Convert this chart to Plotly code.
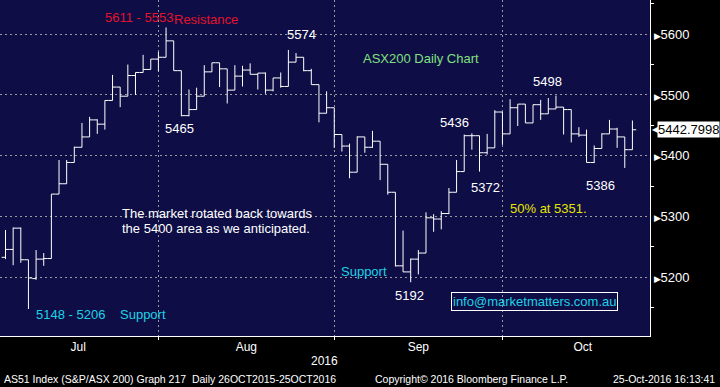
import plotly.graph_objects as go
import pandas as pd

# ---------------- data ----------------
dates = pd.bdate_range("2016-07-01", "2016-10-25").strftime("%Y-%m-%d").tolist()

open_ = [5233, 5246, 5281, 5229, 5198, 5230, 5231, 5337, 5354, 5389,
         5414, 5431, 5459, 5452, 5491, 5513, 5498, 5532, 5537, 5542,
         5559, 5562, 5589, 5540, 5466, 5476, 5498, 5538, 5553, 5543,
         5508, 5531, 5541, 5534, 5536, 5508, 5528, 5514, 5554, 5562,
         5540, 5517, 5470, 5479, 5435, 5416, 5373, 5431, 5414, 5424,
         5386, 5340, 5219, 5209, 5230, 5240, 5298, 5296, 5305, 5340,
         5374, 5433, 5433, 5405, 5413, 5472, 5436, 5479, 5485, 5454,
         5484, 5469, 5477, 5480, 5476, 5436, 5434, 5389, 5412, 5436,
         5444, 5431, 5410]
high = [5278, 5282, 5282, 5229, 5245, 5240, 5337, 5393, 5393, 5415,
        5454, 5464, 5460, 5491, 5533, 5513, 5550, 5537, 5566, 5559,
        5571, 5611, 5589, 5540, 5509, 5512, 5549, 5553, 5553, 5543,
        5549, 5548, 5552, 5536, 5537, 5528, 5537, 5574, 5569, 5562,
        5543, 5517, 5506, 5479, 5435, 5420, 5432, 5431, 5441, 5424,
        5386, 5340, 5277, 5231, 5245, 5307, 5304, 5309, 5347, 5393,
        5435, 5437, 5433, 5436, 5475, 5472, 5493, 5485, 5485, 5484,
        5492, 5495, 5499, 5480, 5476, 5447, 5443, 5417, 5437, 5459,
        5446, 5431, 5458]
low = [5230, 5220, 5224, 5148, 5196, 5219, 5231, 5337, 5354, 5389,
       5414, 5431, 5436, 5443, 5491, 5480, 5498, 5500, 5537, 5542,
       5539, 5562, 5540, 5465, 5465, 5476, 5498, 5538, 5513, 5486,
       5508, 5514, 5534, 5509, 5502, 5506, 5512, 5514, 5554, 5539,
       5517, 5455, 5470, 5413, 5407, 5363, 5373, 5405, 5413, 5360,
       5336, 5218, 5209, 5192, 5205, 5240, 5275, 5279, 5304, 5340,
       5374, 5410, 5374, 5402, 5413, 5418, 5436, 5449, 5454, 5454,
       5459, 5469, 5477, 5435, 5422, 5431, 5389, 5388, 5412, 5436,
       5413, 5380, 5410]
close = [5246, 5281, 5229, 5199, 5230, 5231, 5337, 5354, 5389, 5414,
         5431, 5459, 5452, 5491, 5513, 5498, 5532, 5537, 5542, 5559,
         5562, 5589, 5540, 5466, 5476, 5498, 5538, 5553, 5543, 5508,
         5531, 5541, 5534, 5536, 5508, 5528, 5514, 5554, 5562, 5540,
         5517, 5470, 5479, 5435, 5416, 5373, 5431, 5414, 5424, 5386,
         5340, 5219, 5209, 5230, 5240, 5298, 5296, 5305, 5340, 5374,
         5433, 5433, 5405, 5413, 5472, 5436, 5479, 5485, 5454, 5484,
         5469, 5477, 5480, 5476, 5436, 5434, 5389, 5412, 5436, 5444,
         5431, 5410, 5442.7998]

month_names = ["Jul", "Aug", "Sep", "Oct"]
y_ticks = [5200, 5300, 5400, 5500, 5600]
y_minor = [5150, 5250, 5350, 5450, 5550, 5650]
last_price = close[-1]

# ---------------- derived axis positions ----------------
full = pd.bdate_range("2016-07-01", "2016-10-31").to_period("M")
label_pos, grid_pos = [], []
for m in full.unique():
    ids = [i for i, p in enumerate(full) if p == m]
    label_pos.append((ids[0] - 1 + ids[-1]) / 2)
    if ids[-1] < len(dates) - 1:
        grid_pos.append(ids[-1])

x = list(range(len(dates)))

# ---------------- styling ----------------
PW, PH = 650, 336
NAV = "#0e0d45"
GRID = "#9a9a9a"
SANS = "Liberation Sans, Arial, sans-serif"
RED = "#e3122d"
CYAN = "#1ed2e6"
GREEN = "#80e080"
YELLOW = "#e6e600"
WHITE = "#ffffff"

def px(v):
    return v / PW

def py(v):
    return 1 - v / PH

fig = go.Figure(go.Ohlc(
    x=x, open=open_, high=high, low=low, close=close,
    text=dates, hoverinfo="text+y",
    increasing=dict(line=dict(color=WHITE, width=1)),
    decreasing=dict(line=dict(color=WHITE, width=1)),
    tickwidth=0.5,
))

ann = []
def txt(t, cx, cy, color=WHITE, size=13, anchor="center", family=SANS, **kw):
    ann.append(dict(text=t, x=px(cx), y=py(cy), xref="paper", yref="paper",
                    xanchor=anchor, yanchor="middle", showarrow=False,
                    font=dict(family=family, size=size, color=color), **kw))

txt("5611 - 5553", 139, 17, RED)
txt("Resistance", 205.5, 19.5, RED)
txt("5574", 301.5, 35)
txt("5465", 179.5, 128)
txt("ASX200 Daily Chart", 420.5, 58, GREEN)
txt("5436", 455, 122)
txt("5498", 547, 81)
txt("5372", 485, 187)
txt("5386", 600, 185)
txt("50% at 5351.", 548.5, 208, YELLOW)
txt("The market rotated back towards", 120, 213, anchor="left")
txt("the 5400 area as we anticipated.", 120, 228.5, anchor="left")
txt("Support", 364, 271, CYAN)
txt("5192", 409, 295)
txt("info@marketmatters.com.au", 534, 301.5, CYAN,
    bordercolor=WHITE, borderwidth=1, borderpad=1)
txt("5148 - 5206", 70, 314, CYAN)
txt("Support", 142.5, 314, CYAN)

# bottom texts
txt("2016", 324, 361, size=12)
txt("AS51 Index (S&P/ASX 200) Graph 217  Daily 26OCT2015-25OCT2016", 2, 379,
    size=10.5, anchor="left")
txt("Copyright\u00a9 2016 Bloomberg Finance L.P.", 373, 379,
    size=10.5, anchor="left")
txt("25-Oct-2016 16:13:41", 717, 379, size=10.5, anchor="right")

# last price flag
ann.append(dict(text="\u25c0", x=px(650), y=last_price, xref="paper", yref="y",
                xanchor="left", yanchor="middle", showarrow=False,
                font=dict(family="DejaVu Sans", size=8, color=WHITE)))
ann.append(dict(text="%.4f" % last_price, x=px(657), y=last_price, xref="paper", yref="y",
                xanchor="left", yanchor="middle", showarrow=False, bgcolor=WHITE,
                borderpad=0, font=dict(family=SANS, size=13, color="black")))

fig.update_layout(
    width=720, height=387,
    margin=dict(l=0, r=70, t=0, b=51),
    paper_bgcolor="black", plot_bgcolor=NAV,
    showlegend=False,
    annotations=ann,
    xaxis=dict(
        range=[-0.72, 84.3], tickmode="array", tickvals=label_pos, ticktext=month_names,
        ticks="", showgrid=False, zeroline=False,
        showline=True, linecolor=WHITE, linewidth=1,
        tickfont=dict(family=SANS, size=12, color=WHITE),
        rangeslider=dict(visible=False), automargin=False, fixedrange=True,
        minor=dict(tickmode="array", tickvals=grid_pos, showgrid=True,
                   gridcolor=GRID, griddash="2px,3px", gridwidth=1,
                   ticks="outside", ticklen=3, tickcolor=WHITE),
    ),
    yaxis=dict(
        side="right", range=[5103.6, 5656.2],
        tickmode="array", tickvals=y_ticks,
        ticktext=["<span style='font-size:9px'>\u25b6</span>%d" % v for v in y_ticks],
        ticks="", showgrid=True, gridcolor=GRID, griddash="2px,3px", gridwidth=1,
        zeroline=False, showline=True, linecolor=WHITE, linewidth=1,
        tickfont=dict(family=SANS, size=13, color=WHITE),
        automargin=False, fixedrange=True,
        minor=dict(tickmode="array", tickvals=y_minor, ticks="outside",
                   ticklen=3, tickcolor=WHITE, showgrid=False),
    ),
)

fig.write_html("out.html", config={"displayModeBar": False},
               post_script="document.body.style.margin='0';document.body.style.overflow='hidden';")
